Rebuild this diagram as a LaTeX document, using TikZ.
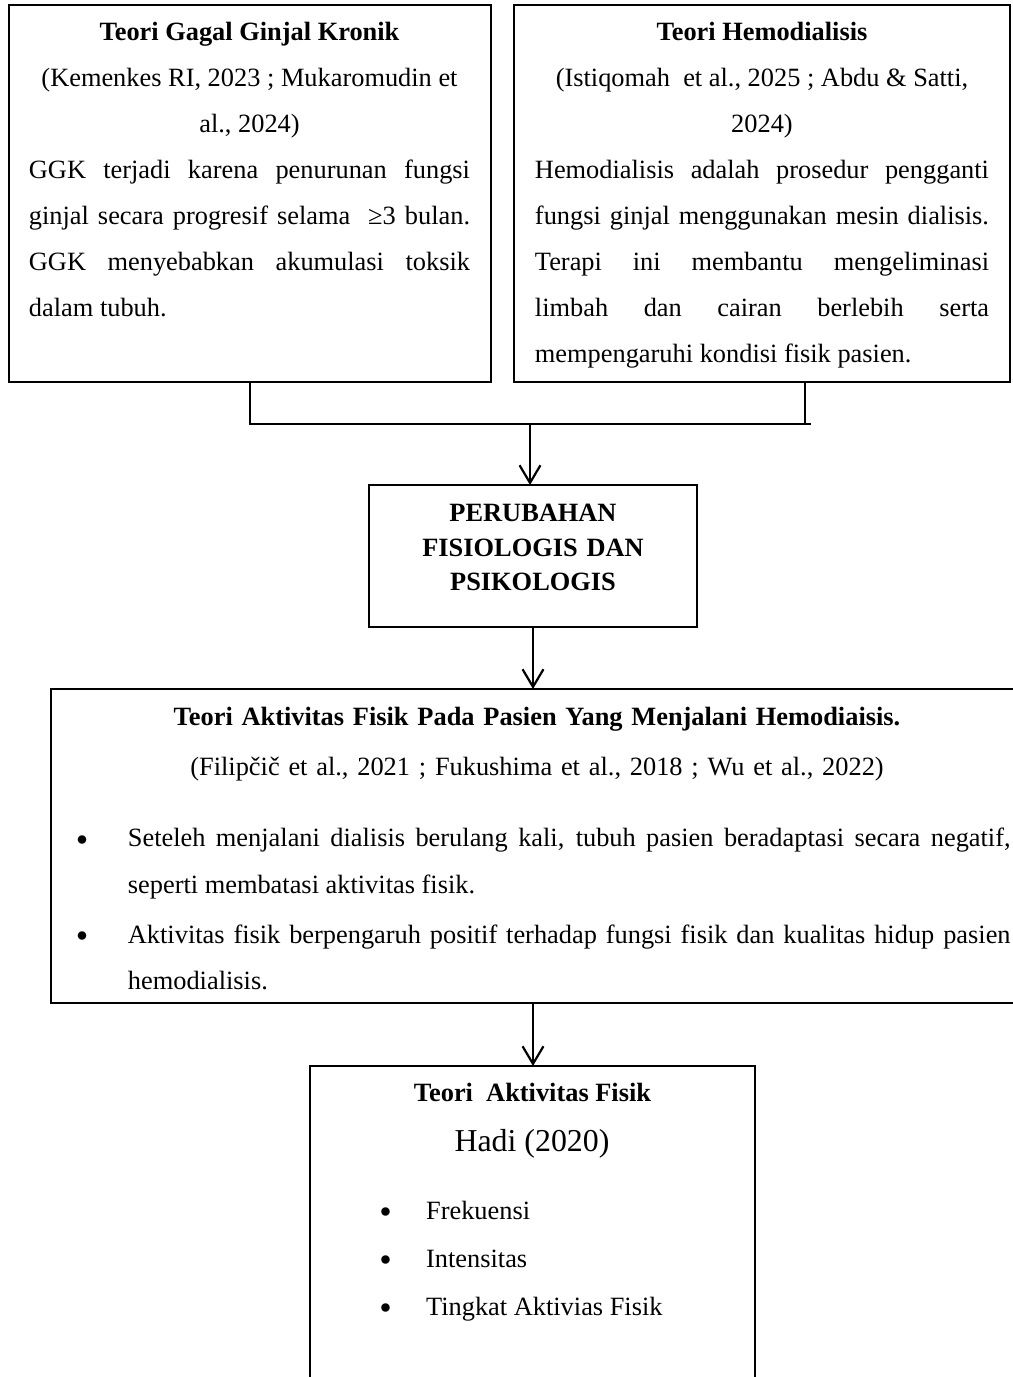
\documentclass[tikz,border=0pt]{standalone}
\usepackage{fontspec}
\setmainfont{Liberation Serif}
\usetikzlibrary{arrows.meta,fit}
\setlength{\parindent}{0pt}
\tolerance=10000
\hyphenpenalty=10000
\exhyphenpenalty=10000
\newcommand{\blt}{\raisebox{0.8pt}{\fontsize{10}{10}\selectfont$\bullet$}}

\begin{document}
\begin{tikzpicture}[
  x=0.455pt, y=-0.455pt,
  every node/.style={inner sep=0pt, outer sep=0pt},
  frame/.style={draw, line width=0.6pt, fit={#1}},
  txt/.style={anchor=north, align=justify, font=\fontsize{12}{20.93}\selectfont},
  link/.style={line width=1pt},
  arr/.style={-{Straight Barb[length=8pt,width=9.5pt]}, line width=1pt}
]
\useasboundingbox (0,0) rectangle (1013,1377);
\clip (0,0) rectangle (1013,1377);

% boxes
\node[frame={(9,5) (491,382)}] (ggk) {};
\node[frame={(514,5) (1010,382)}] (hd) {};
\node[frame={(369,485) (697,627)}] (mid) {};
\node[frame={(51,689) (1023,1003)}] (akt) {};
\node[frame={(310,1066) (755,1420)}] (fis) {};

% texts
\node[txt, text width=200.7pt] (ggktxt) at (249.5,7.8) {%
{\centering\strut\textbf{Teori Gagal Ginjal Kronik}\\
(Kemenkes RI, 2023 ; Mukaromudin et\\ al., 2024)\par}
GGK terjadi karena penurunan fungsi\linebreak
ginjal secara progresif selama\ \ ≥3 bulan.\linebreak
GGK menyebabkan akumulasi toksik\linebreak
dalam tubuh.\par};

\node[txt, text width=206.6pt] (hdtxt) at (762,7.8) {%
{\centering\strut\textbf{Teori Hemodialisis}\\
(Istiqomah\ \ et al., 2025 ; Abdu \& Satti,\\ 2024)\par}
Hemodialisis adalah prosedur pengganti\linebreak
fungsi ginjal menggunakan mesin dialisis.\linebreak
Terapi ini membantu mengeliminasi\linebreak
limbah dan cairan berlebih serta\linebreak
mempengaruhi kondisi fisik pasien.\par};

\node[txt, text width=140pt, align=center,
  font=\bfseries\fontsize{12}{15.7}\selectfont] (midtxt) at (533,497.5)
  {\strut PERUBAHAN\\ FISIOLOGIS DAN\\ PSIKOLOGIS};

\node[txt, text width=440pt, align=center,
  font=\fontsize{12}{22.75}\selectfont] (akttxt) at (537,690)
  {\strut\textbf{Teori Aktivitas Fisik Pada Pasien Yang Menjalani Hemodiaisis.}\\
  (Filipčič et al., 2021 ; Fukushima et al., 2018 ; Wu et al., 2022)};

\node[txt, anchor=north west, text width=425pt,
  font=\fontsize{12}{21.16}\selectfont] (aktlist) at (76.5,814.4) {%
\setlength{\parskip}{1.4pt}%
\hangindent=23.4pt\hangafter=1
\strut\makebox[23.4pt][l]{\blt}Seteleh menjalani dialisis berulang kali, tubuh pasien beradaptasi secara negatif,\linebreak
seperti membatasi aktivitas fisik.\par
\hangindent=23.4pt\hangafter=1
\strut\makebox[23.4pt][l]{\blt}Aktivitas fisik berpengaruh positif terhadap fungsi fisik dan kualitas hidup pasien\linebreak
hemodialisis.\par};

\node[anchor=base, font=\bfseries\fontsize{12}{14}\selectfont] (fistitle) at (532.5,1101.5)
  {Teori\ \ Aktivitas Fisik};
\node[anchor=base, font=\fontsize{14.5}{17}\selectfont] (fisref) at (532,1151.5)
  {Hadi (2020)};
\node[anchor=north west, align=left,
  font=\fontsize{12}{21.84}\selectfont] (fislist) at (380,1185.4)
  {\strut\makebox[21pt][l]{\blt}Frekuensi\\
   \makebox[21pt][l]{\blt}Intensitas\\
   \makebox[21pt][l]{\blt}Tingkat Aktivias Fisik};

% connectors
\coordinate (hdfoot) at (805,382);
\coordinate (bar) at (530,424);
\coordinate (barend) at (811,424);
\draw[link] (ggk.south) -- (ggk.south |- bar) -- (barend);
\draw[link] (hdfoot) -- (hdfoot |- bar);
\draw[arr] (bar) -- (bar |- mid.north);
\draw[arr] (mid.south) -- (mid.south |- akt.north);
\draw[arr] (mid.south |- akt.south) -- (mid.south |- fis.north);
\end{tikzpicture}
\end{document}
